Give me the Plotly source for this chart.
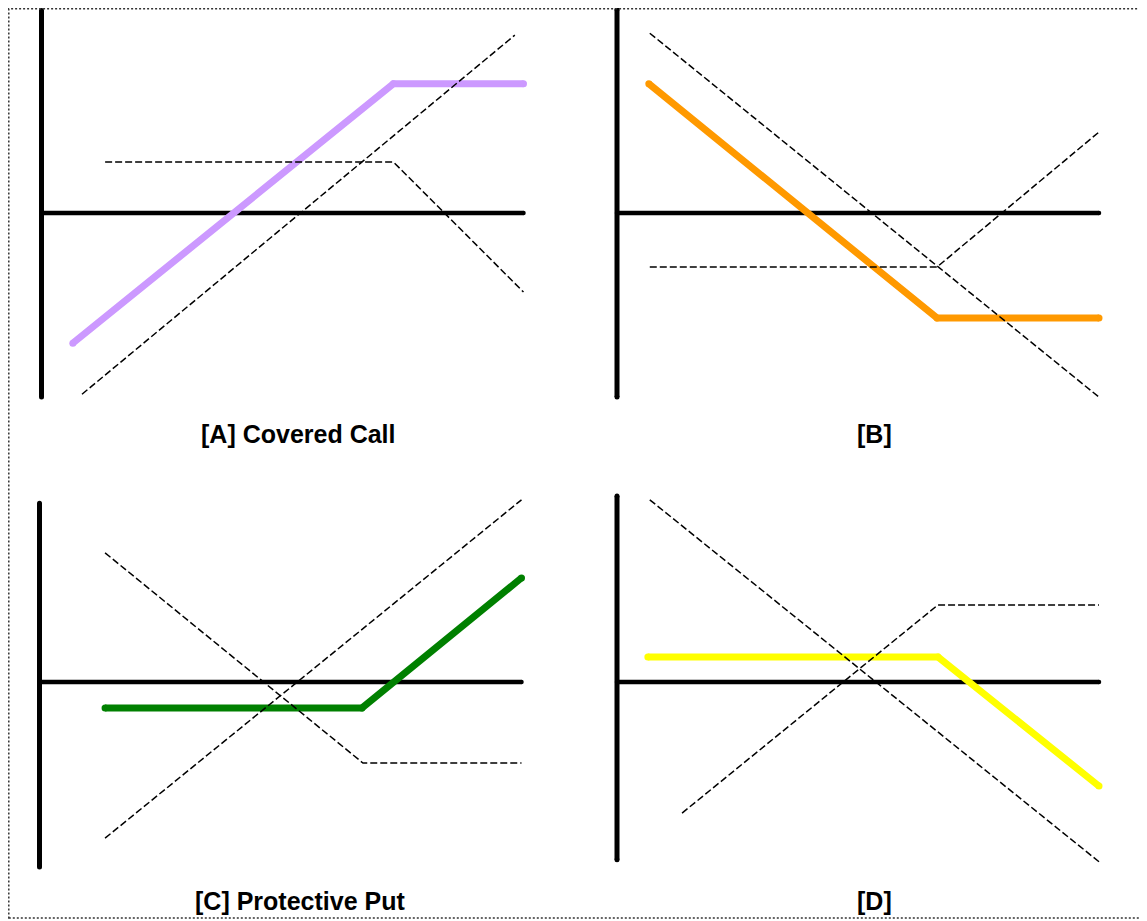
import plotly.graph_objects as go

W, H = 1147, 921
OFF = 8  # page body margin compensation (px)

# ---------------- data (price units 0..100, payoff units; 0 = horizontal axis) ----------------
# [A] Covered Call
A_price = [6.5, 73, 100]
A_payoff = [-27.0, 26.8, 26.8]
A_stock_x = [8.4, 98.2]
A_stock_y = [-37.6, 36.9]
A_call_x = [13.2, 73, 100]
A_call_y = [10.6, 10.6, -16.4]
A_vaxis = [-38.2, 42.0]

# [B]
B_price = [6.6, 66.4, 100]
B_payoff = [26.8, -21.8, -21.8]
B_stock_x = [6.8, 100]
B_stock_y = [37.3, -38.2]
B_call_x = [6.8, 66.4, 100]
B_call_y = [-11.2, -11.2, 16.8]
B_vaxis = [-38.2, 42.2]

# [C] Protective Put
C_price = [13.6, 66.9, 100]
C_payoff = [-5.4, -5.4, 21.6]
C_stock_x = [13.6, 100]
C_stock_y = [-32.4, 37.8]
C_put_x = [13.6, 67.1, 100]
C_put_y = [26.8, -16.8, -16.8]
C_vaxis = [-38.4, 37.1]

# [D]
D_price = [6.4, 66.6, 100]
D_payoff = [5.2, 5.2, -21.6]
D_stock_x = [6.8, 100]
D_stock_y = [37.8, -37.3]
D_put_x = [13.5, 66.6, 100]
D_put_y = [-27.2, 16.0, 16.0]
D_vaxis = [-36.9, 38.6]

haxis_x = [0, 100]
haxis_y = [0, 0]

titles = ["[A] Covered Call", "[B]", "[C] Protective Put", "[D]"]
colors = ["#CC99FF", "#FF9900", "#008000", "#FFFF00"]

# ---------------- layout geometry (screen pixels) ----------------
S = 4.82  # px per unit
panels = [
    dict(left=41.5, axis_y=213),
    dict(left=617, axis_y=213),
    dict(left=39.5, axis_y=682),
    dict(left=617, axis_y=682),
]
XR = [-6, 106]
YR = [-42, 42.4]
title_pos = [(298, 434), (874, 434), (300, 901), (874, 901)]


def px(x):
    return (x - OFF) / W


def py(y):
    return 1 - (y - OFF) / H


def clamp(v):
    return min(1.0, max(0.0, v))


data = [
    (A_price, A_payoff, A_stock_x, A_stock_y, A_call_x, A_call_y, A_vaxis),
    (B_price, B_payoff, B_stock_x, B_stock_y, B_call_x, B_call_y, B_vaxis),
    (C_price, C_payoff, C_stock_x, C_stock_y, C_put_x, C_put_y, C_vaxis),
    (D_price, D_payoff, D_stock_x, D_stock_y, D_put_x, D_put_y, D_vaxis),
]

fig = go.Figure()
layout_axes = {}
for i, (p, d) in enumerate(zip(panels, data), start=1):
    xa = "x" if i == 1 else f"x{i}"
    ya = "y" if i == 1 else f"y{i}"
    x0 = px(p["left"] + XR[0] * S)
    x1 = px(p["left"] + XR[1] * S)
    ytop = p["axis_y"] - YR[1] * S
    ybot = p["axis_y"] - YR[0] * S
    layout_axes["xaxis" if i == 1 else f"xaxis{i}"] = dict(
        domain=[clamp(x0), clamp(x1)], range=XR, visible=False, fixedrange=True, anchor=ya)
    layout_axes["yaxis" if i == 1 else f"yaxis{i}"] = dict(
        domain=[clamp(py(ybot)), clamp(py(ytop))], range=YR, visible=False,
        fixedrange=True, anchor=xa)

    price, payoff, s_x, s_y, o_x, o_y, vax = d
    # axes
    fig.add_trace(go.Scatter(x=[0, 0], y=vax, mode="lines+markers",
                             line=dict(color="black", width=5),
                             marker=dict(color="black", size=5),
                             cliponaxis=False,
                             xaxis=xa, yaxis=ya, hoverinfo="skip"))
    fig.add_trace(go.Scatter(x=haxis_x, y=haxis_y, mode="lines+markers",
                             line=dict(color="black", width=4.5),
                             marker=dict(color="black", size=4.5),
                             cliponaxis=False,
                             xaxis=xa, yaxis=ya, hoverinfo="skip"))
    # strategy payoff
    fig.add_trace(go.Scatter(x=price, y=payoff, mode="lines+markers",
                             line=dict(color=colors[i - 1], width=7),
                             marker=dict(color=colors[i - 1], size=7),
                             cliponaxis=False,
                             xaxis=xa, yaxis=ya))
    # component dashed lines
    fig.add_trace(go.Scatter(x=s_x, y=s_y, mode="lines",
                             line=dict(color="black", width=1.5, dash="7px,3px"),
                             xaxis=xa, yaxis=ya))
    fig.add_trace(go.Scatter(x=o_x, y=o_y, mode="lines",
                             line=dict(color="black", width=1.5, dash="7px,3px"),
                             xaxis=xa, yaxis=ya))

annotations = []
for t, (tx, ty) in zip(titles, title_pos):
    annotations.append(dict(
        text=t, x=px(tx), y=py(ty), xref="paper", yref="paper",
        xanchor="center", yanchor="middle", showarrow=False,
        font=dict(family="Liberation Sans, Arial, sans-serif", size=25,
                  color="black", weight="bold")))

shapes = [dict(type="rect", xref="paper", yref="paper",
               x0=px(8.8), x1=1.05, y0=py(918), y1=py(8.8),
               line=dict(color="#333333", width=1.5, dash="2px,2px"),
               fillcolor="rgba(0,0,0,0)")]

fig.update_layout(
    width=W, height=H, margin=dict(l=0, r=0, t=0, b=0),
    paper_bgcolor="white", plot_bgcolor="white",
    showlegend=False, annotations=annotations, shapes=shapes,
    **layout_axes)

fig.write_html("out.html")
